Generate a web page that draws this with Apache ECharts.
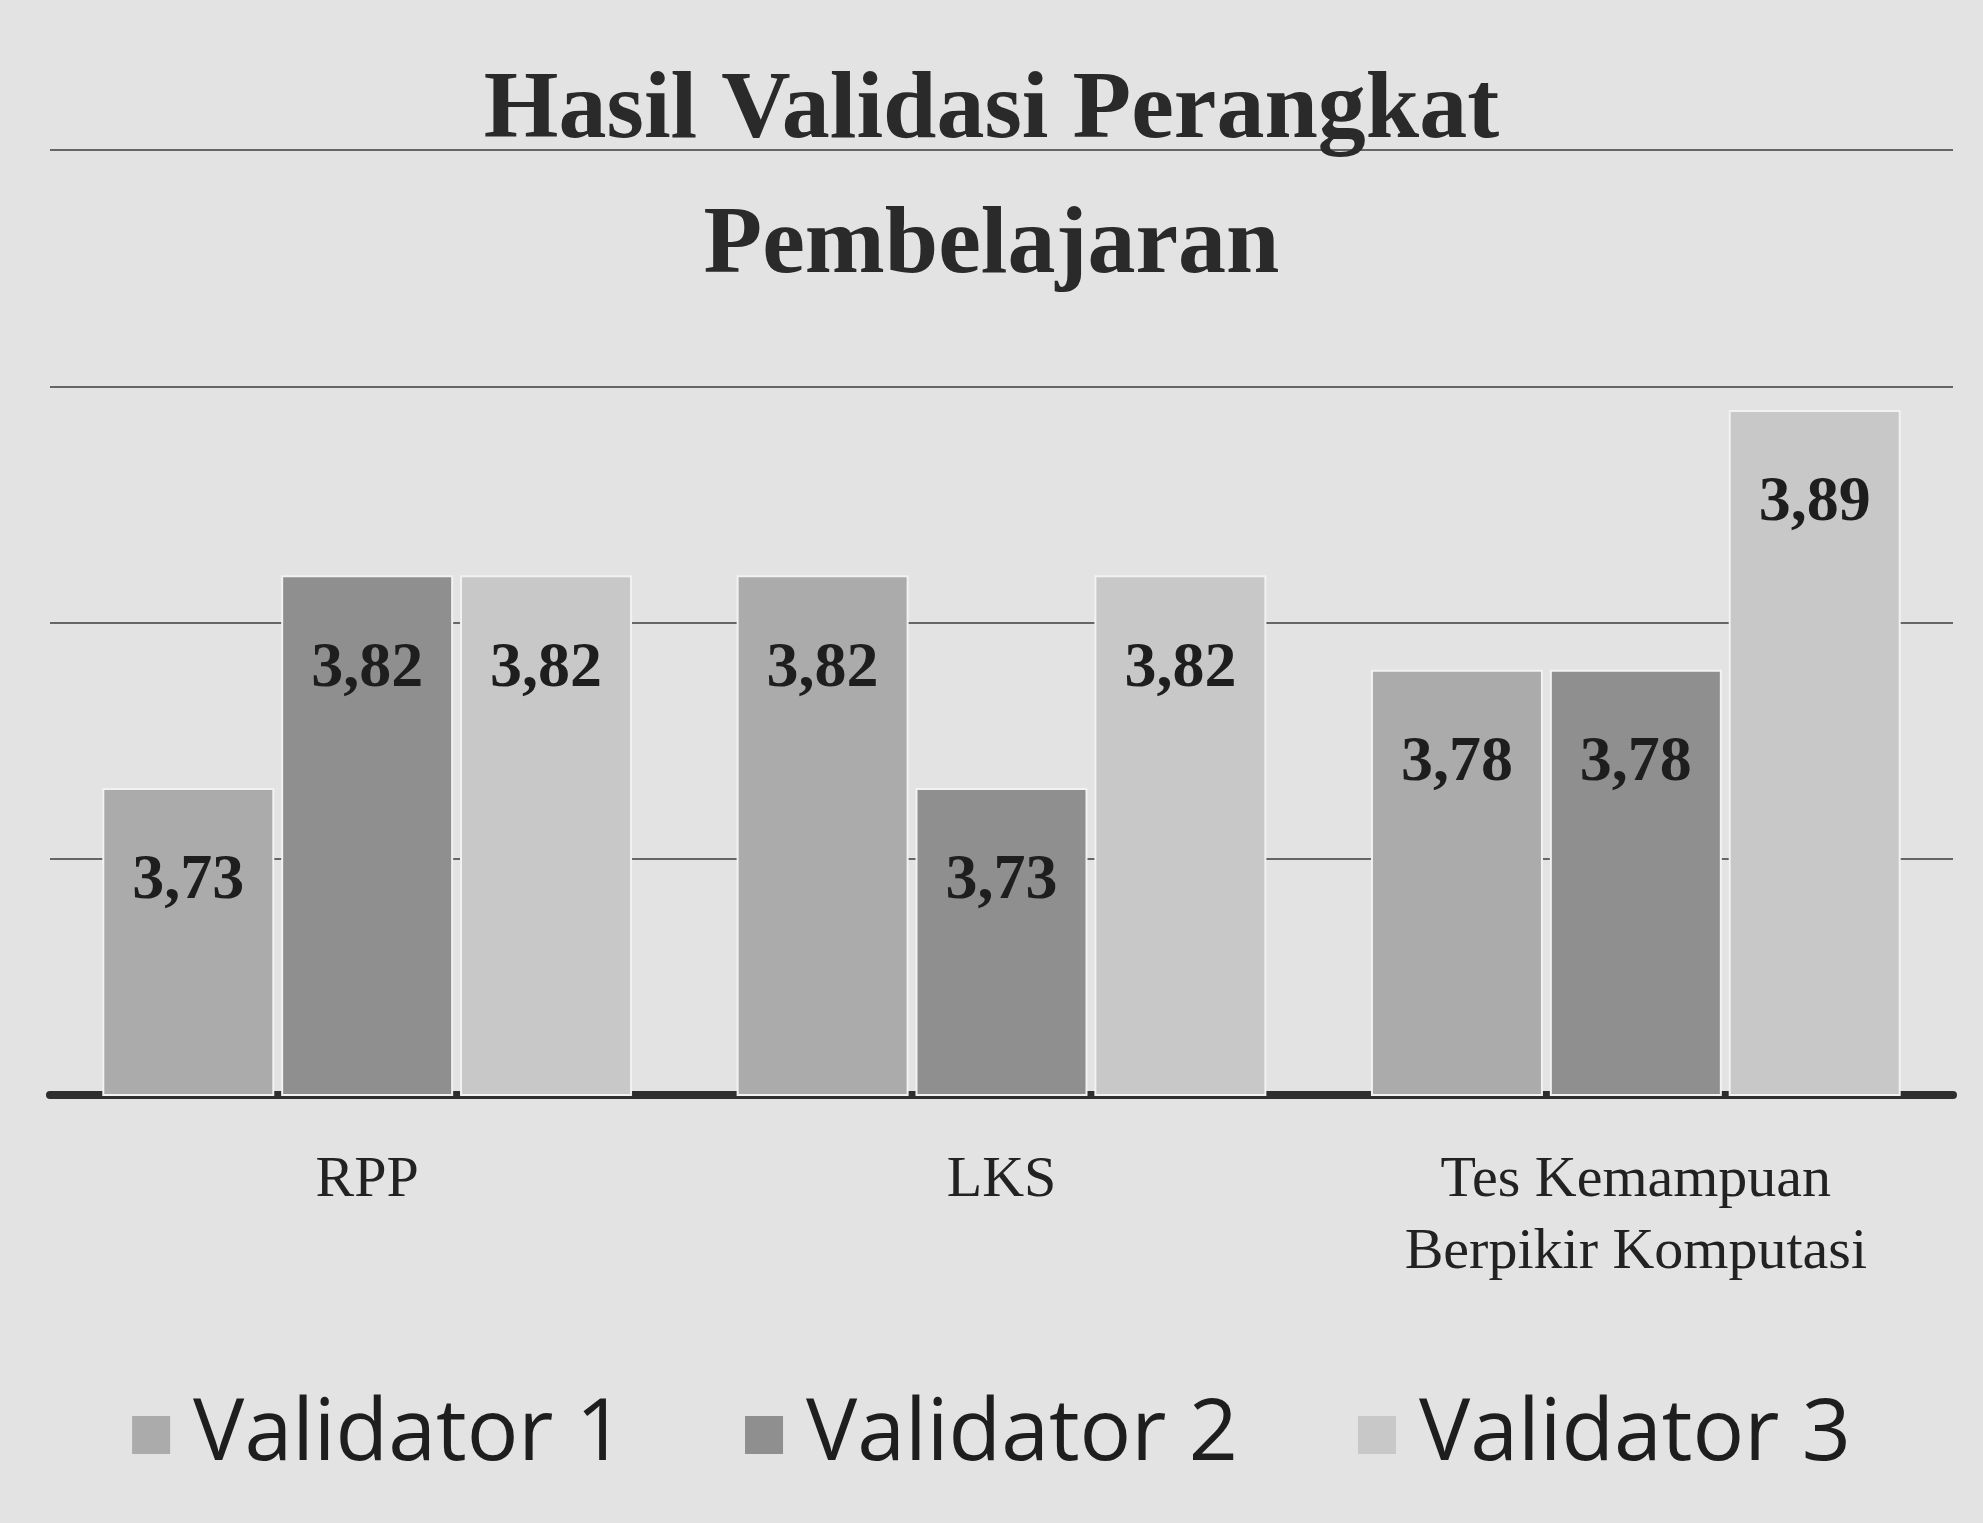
<!DOCTYPE html>
<html>
<head>
<meta charset="utf-8">
<script src="https://cdn.jsdelivr.net/npm/echarts@6/dist/echarts.min.js"></script>
<style>
html,body{margin:0;padding:0;background:#e3e3e3;}
#chart{width:1983px;height:1523px;}
</style>
</head>
<body>
<div id="chart"></div>
<script>
const categories = ['RPP', 'LKS', 'Tes Kemampuan\nBerpikir Komputasi'];
const seriesNames = ['Validator 1', 'Validator 2', 'Validator 3'];
const validator1 = [3.73, 3.82, 3.78];
const validator2 = [3.82, 3.73, 3.78];
const validator3 = [3.82, 3.82, 3.89];
const colors = ['#ababab', '#8f8f8f', '#c8c8c8'];

const chart = echarts.init(document.getElementById('chart'));
const allData = [validator1, validator2, validator3];
chart.setOption({
  backgroundColor: '#e3e3e3',
  title: {
    text: 'Hasil Validasi Perangkat\nPembelajaran',
    left: 'center',
    top: 40,
    textStyle: {
      fontFamily: 'Liberation Serif',
      fontWeight: 'bold',
      fontSize: 96,
      lineHeight: 135,
      color: '#2a2a2a'
    }
  },
  legend: {
    data: seriesNames,
    bottom: 40,
    left: 'center',
    icon: 'rect',
    itemWidth: 38,
    itemHeight: 38,
    itemGap: 120,
    itemStyle: { borderWidth: 0 },
    textStyle: {
      fontFamily: 'Open Sans',
      fontSize: 86,
      color: '#1e1e1e',
      padding: [0, 0, 0, 18]
    }
  },
  grid: {
    left: 50,
    right: 30,
    top: 150,
    bottom: 428,
    containLabel: false
  },
  xAxis: {
    type: 'category',
    data: categories,
    axisTick: { show: false },
    axisLine: { show: true, lineStyle: { color: '#2e2e2e', width: 8 } },
    axisLabel: {
      fontFamily: 'Liberation Serif',
      fontSize: 58,
      lineHeight: 72,
      color: '#222',
      margin: 50
    }
  },
  yAxis: {
    type: 'value',
    min: 3.6,
    max: 4.0,
    interval: 0.1,
    axisLabel: { show: false },
    axisLine: { show: false },
    axisTick: { show: false },
    splitLine: { show: true, lineStyle: { color: '#666', width: 2 } }
  },
  series: seriesNames.map((name, i) => ({
    name: name,
    type: 'bar',
    data: allData[i],
    barWidth: 172,
    barGap: '4%',
    itemStyle: { color: colors[i], borderColor: '#f2f2f2', borderWidth: 2 },
    label: {
      show: true,
      position: 'insideTop',
      distance: 62,
      formatter: p => p.value.toFixed(2).replace('.', ','),
      fontFamily: 'Liberation Serif',
      fontWeight: 'bold',
      fontSize: 64,
      color: '#1e1e1e'
    }
  }))
});
</script>
</body>
</html>
